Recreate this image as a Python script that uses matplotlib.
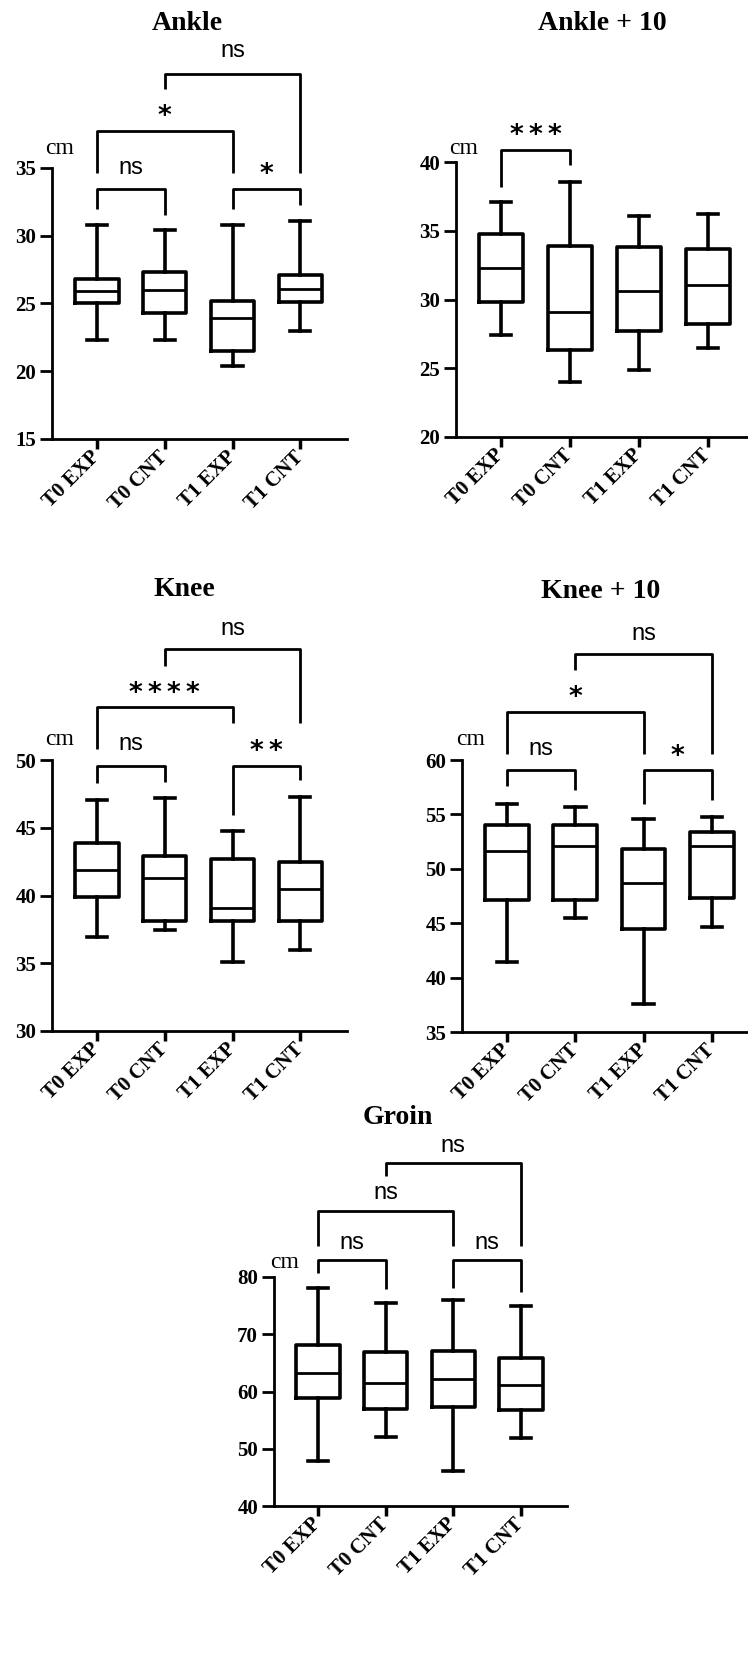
import numpy as np
import matplotlib
matplotlib.use("Agg")
import matplotlib.pyplot as plt

#
# categories
#
groups = ["T0 EXP", "T0 CNT", "T1 EXP", "T1 CNT"]

#
# box stats: low whisker, Q1, median, Q3, high whisker (cm)
#
ankle = [[22.3, 25.0, 25.9, 26.8, 30.8],
         [22.3, 24.3, 26.0, 27.3, 30.4],
         [20.4, 21.5, 23.9, 25.2, 30.8],
         [23.0, 25.1, 26.1, 27.1, 31.1]]
ankle10 = [[27.4, 29.8, 32.3, 34.8, 37.1],
           [24.0, 26.3, 29.1, 33.9, 38.55],
           [24.9, 27.7, 30.6, 33.8, 36.1],
           [26.5, 28.2, 31.05, 33.7, 36.2]]
knee = [[36.95, 39.9, 41.85, 43.85, 47.05],
        [37.45, 38.1, 41.3, 42.9, 47.2],
        [35.1, 38.15, 39.1, 42.7, 44.75],
        [35.95, 38.1, 40.45, 42.45, 47.25]]
knee10 = [[41.4, 47.15, 51.6, 54.0, 56.0],
          [45.5, 47.15, 52.1, 54.0, 55.7],
          [37.6, 44.5, 48.7, 51.85, 54.55],
          [44.65, 47.3, 52.05, 53.35, 54.8]]
groin = [[47.9, 58.95, 63.25, 68.1, 78.15],
         [52.1, 57.0, 61.55, 66.85, 75.45],
         [46.15, 57.3, 62.15, 67.0, 75.95],
         [51.85, 56.75, 61.15, 65.8, 74.95]]

#
# significance labels for each compared pair
#
ankle_sig = [(0, 1, "ns"), (2, 3, "*"), (0, 2, "*"), (1, 3, "ns")]
ankle10_sig = [(0, 1, "***")]
knee_sig = [(0, 1, "ns"), (2, 3, "**"), (0, 2, "****"), (1, 3, "ns")]
knee10_sig = [(0, 1, "ns"), (2, 3, "*"), (0, 2, "*"), (1, 3, "ns")]
groin_sig = [(0, 1, "ns"), (2, 3, "ns"), (0, 2, "ns"), (1, 3, "ns")]

W, H = 748, 1666
fig = plt.figure(figsize=(W / 100, H / 100), dpi=100)

serif = "Liberation Serif"
sans = "Liberation Sans"


def px_rect(left, top, right, bottom):
    return [left / W, 1 - bottom / H, (right - left) / W, (bottom - top) / H]


def draw_panel(rect, xlim, stats, title, title_xy, cm_xy, ylim, yticks, sig, geo):
    ax = fig.add_axes(px_rect(*rect))
    bx = []
    for s in stats:
        bx.append(dict(whislo=s[0], q1=s[1], med=s[2], q3=s[3], whishi=s[4], fliers=[]))
    ax.bxp(bx, positions=range(len(groups)), widths=0.64, capwidths=0.3,
           showfliers=False,
           boxprops=dict(color="black", linewidth=2.6),
           whiskerprops=dict(color="black", linewidth=2.6),
           capprops=dict(color="black", linewidth=2.6),
           medianprops=dict(color="black", linewidth=2))
    ax.set_xlim(*xlim)
    ax.set_ylim(*ylim)
    ax.set_yticks(yticks)
    ax.set_xticks(range(len(groups)))
    ax.set_xticklabels(groups, rotation=45, ha="right", va="center",
                       rotation_mode="anchor", fontfamily=serif,
                       fontweight="bold", fontsize=15)
    for lab in ax.get_yticklabels():
        lab.set_fontfamily(serif)
        lab.set_fontweight("bold")
        lab.set_fontsize(15)
    ax.spines["top"].set_visible(False)
    ax.spines["right"].set_visible(False)
    ax.spines["left"].set_linewidth(2)
    ax.spines["bottom"].set_linewidth(2)
    ax.tick_params(axis="y", length=8.5, width=2, pad=3)
    ax.tick_params(axis="x", length=7, width=2.5, pad=4)
    # significance brackets
    for (i, j, lab), (bar, yl, yr, ty) in zip(sig, geo):
        ax.plot([i, i, j, j], [yl, bar, bar, yr], color="black",
                linewidth=2, clip_on=False, solid_capstyle="butt")
        if "*" in lab:
            ax.text((i + j) / 2, ty, "\u2009".join(lab), ha="center", va="center",
                    fontsize=19, fontweight="bold", fontfamily="DejaVu Sans",
                    clip_on=False)
        else:
            ax.text((i + j) / 2, ty, lab, ha="center", va="center",
                    fontsize=17, fontfamily=sans, clip_on=False)
    fig.text(title_xy[0] / W, 1 - title_xy[1] / H, title, ha="center",
             va="center", fontsize=20, fontweight="bold", fontfamily=serif)
    fig.text(cm_xy[0] / W, 1 - cm_xy[1] / H, "cm", ha="center",
             va="center", fontsize=17, fontfamily=serif)
    return ax


# bracket geometry: bar height, left leg end, right leg end, label height
draw_panel((52, 168, 347, 439), (-0.665, 3.69), ankle, "Ankle", (187, 23),
           (60, 148), (15, 35), [15, 20, 25, 30, 35], ankle_sig,
           [(33.47, 32.0, 31.55, 35.0), (33.47, 32.0, 32.3, 34.5),
            (37.7, 34.6, 34.6, 38.8), (41.96, 40.83, 34.6, 43.6)])

draw_panel((456, 162, 748, 437), (-0.652, 3.58), ankle10, "Ankle + 10", (602, 23),
           (464, 148), (20, 40), [20, 25, 30, 35, 40], ankle10_sig,
           [(40.9, 38.2, 39.76, 41.9)])

draw_panel((52, 760, 347, 1031), (-0.665, 3.69), knee, "Knee", (184, 589),
           (60, 740), (30, 50), [30, 35, 40, 45, 50], knee_sig,
           [(49.58, 48.28, 48.35, 51.2), (49.58, 45.94, 48.5, 50.6),
            (53.94, 50.79, 52.75, 54.9), (58.19, 56.96, 52.75, 59.7)])

draw_panel((462, 760, 748, 1032), (-0.66, 3.53), knee10, "Knee + 10", (601, 592),
           (471, 740), (35, 60), [35, 40, 45, 50, 55, 60], knee10_sig,
           [(59.08, 57.6, 57.2, 61.0), (59.08, 56.0, 56.3, 60.3),
            (64.44, 60.55, 60.55, 65.7), (69.73, 68.26, 60.55, 71.6)])

draw_panel((274, 1277, 567, 1506), (-0.65, 3.68), groin, "Groin", (398, 1117),
           (285, 1262), (40, 80), [40, 50, 60, 70, 80], groin_sig,
           [(83.02, 80.7, 77.97, 86.0), (83.02, 78.14, 77.4, 86.0),
            (91.5, 85.35, 85.35, 94.6), (99.9, 97.56, 85.35, 102.8)])

fig.savefig("out.png", dpi=100)
